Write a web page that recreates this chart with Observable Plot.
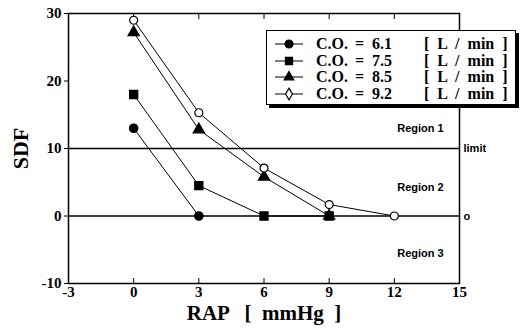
<!DOCTYPE html>
<html><head><meta charset="utf-8">
<script src="https://cdn.jsdelivr.net/npm/d3@7"></script>
<script src="https://cdn.jsdelivr.net/npm/@observablehq/plot@0.6"></script>
<style>
body{margin:0;background:#fff;}
#wrap{position:relative;width:526px;height:330px;}
#legend{position:absolute;left:266px;top:30px;width:248px;height:73px;border:1.5px solid #000;box-shadow:3px 3px 0 #000;background:#fff;font:bold 16px "Liberation Serif",serif;}
.row{position:absolute;left:0;width:100%;height:16px;line-height:16px;white-space:pre;}
.row svg{position:absolute;left:6px;top:0;}
.row span{position:absolute;top:0;}
</style></head><body>
<div id="wrap"><div id="chart"></div><div id="legend"></div></div>
<script>
const xTicks = [-3, 0, 3, 6, 9, 12, 15];
const yTicks = [-10, 0, 10, 20, 30];
const seriesCO = ["6.1", "7.5", "8.5", "9.2"];
const unitText = "[  L  /  min  ]";
const co61x = [0, 3], co61y = [13, 0];
const co75x = [0, 3, 6, 9], co75y = [18, 4.5, 0, 0];
const co85x = [0, 3, 6, 9], co85y = [27.2, 12.8, 5.8, 0];
const co92x = [0, 3, 6, 9, 12], co92y = [29, 15.3, 7.1, 1.7, 0];
const refLines = [10, 0];
const regionLabels = ["Region 1", "Region 2", "Region 3"];
const regionY = [13, 4.2, -5.6];
const sideLabels = ["limit", "o"];
const sideY = [10, 0];

const symbols = ["circle", "square", "triangle", "circle"];
const fills = ["black", "black", "black", "white"];
const sizes = [4.2, 4.6, 4.2, 4];
const xs = [co61x, co75x, co85x, co92x], ys = [co61y, co75y, co85y, co92y];
const data = [];
xs.forEach((arr, i) => arr.forEach((x, j) => data.push({s: i, x, y: ys[i][j]})));

const serif = '"Liberation Serif", serif';
const sans = '"Liberation Sans", sans-serif';
const fmt = d => d < 0 ? "-" + Math.abs(d) : String(d);
const marks = [
  Plot.ruleY(refLines, {stroke: "black", strokeWidth: 1.5}),
  Plot.frame({stroke: "black", strokeWidth: 1.5}),
  Plot.axisX(xTicks, {anchor: "bottom", tickSize: -5, text: null, label: null}),
  Plot.axisX(xTicks, {anchor: "top", tickSize: -5, text: null, label: null}),
  Plot.axisY(yTicks, {anchor: "left", tickSize: 4, text: null, label: null}),
  Plot.text(xTicks, {x: d => d, frameAnchor: "bottom", lineAnchor: "top", dy: 3, text: fmt, fontFamily: serif, fontWeight: "bold", fontSize: 15}),
  Plot.text(yTicks, {y: d => d, frameAnchor: "left", textAnchor: "end", dx: -7, text: fmt, fontFamily: serif, fontWeight: "bold", fontSize: 15}),
  Plot.text(regionLabels, {x: () => 13.2, y: (d, i) => regionY[i], text: d => d, fontFamily: sans, fontWeight: "bold", fontSize: 11, ariaLabel: "region"}),
  Plot.text(sideLabels, {x: () => 15, y: (d, i) => sideY[i], text: d => d, dx: 4, textAnchor: "start", fontFamily: sans, fontWeight: "bold", fontSize: 11, ariaLabel: "side"}),
];
for (let i = 0; i < 4; i++) {
  const d = data.filter(p => p.s === i);
  marks.push(Plot.line(d, {x: "x", y: "y", stroke: "black", strokeWidth: 1}));
}
for (let i = 0; i < 4; i++) {
  const d = data.filter(p => p.s === i);
  marks.push(Plot.dot(d, {x: "x", y: "y", symbol: () => symbols[i], fill: fills[i], stroke: "black", strokeWidth: 1.2, r: sizes[i]}));
}
marks.push(Plot.text(["SDF"], {frameAnchor: "left", dx: -48, textAnchor: "middle", rotate: -90, text: d => d, fontFamily: serif, fontWeight: "bold", fontSize: 22}));
marks.push(Plot.text(["RAP   [  mmHg  ]"], {frameAnchor: "bottom", dy: 30, lineAnchor: "middle", text: d => d, fontFamily: serif, fontWeight: "bold", fontSize: 21, ariaLabel: "xtitle"}));

const chart = Plot.plot({
  width: 526, height: 330,
  marginTop: 13, marginBottom: 47, marginLeft: 68, marginRight: 67,
  x: {domain: [-3, 15], axis: null},
  y: {domain: [-10, 30], axis: null},
  symbol: {type: "identity"},
  style: {background: "white", color: "black", overflow: "visible"},
  marks
});
document.getElementById("chart").appendChild(chart);
const sel = d3.select(chart);
sel.selectAll("text").attr("xml:space", "preserve").style("white-space", "pre");
sel.selectAll('g[aria-label="region"]').attr("letter-spacing", 1.4);
sel.selectAll('g[aria-label="side"]').attr("letter-spacing", 0.8);
sel.selectAll('g[aria-label="xtitle"]').attr("letter-spacing", 1);

const leg = document.getElementById("legend");
const d3sym = [d3.symbolCircle, d3.symbolSquare, d3.symbolTriangle, d3.symbolDiamond];
const symSize = [50, 50, 40, 40];
seriesCO.forEach((v, i) => {
  const row = document.createElement("div");
  row.className = "row";
  row.style.top = (5 + i * 16.7) + "px";
  const svg = d3.create("svg").attr("width", 32).attr("height", 16);
  svg.append("line").attr("x1", 2).attr("x2", 30).attr("y1", 8).attr("y2", 8).attr("stroke", "black");
  svg.append("path").attr("transform", "translate(16,8)")
    .attr("d", d3.symbol(d3sym[i], symSize[i])())
    .attr("fill", fills[i]).attr("stroke", "black").attr("stroke-width", 1.2);
  row.appendChild(svg.node());
  [["C.O.", 49], ["=  " + v, 88], [unitText, 157]].forEach(([t, l]) => {
    const sp = document.createElement("span");
    sp.textContent = t;
    sp.style.left = l + "px";
    row.appendChild(sp);
  });
  leg.appendChild(row);
});
</script>
</body></html>
